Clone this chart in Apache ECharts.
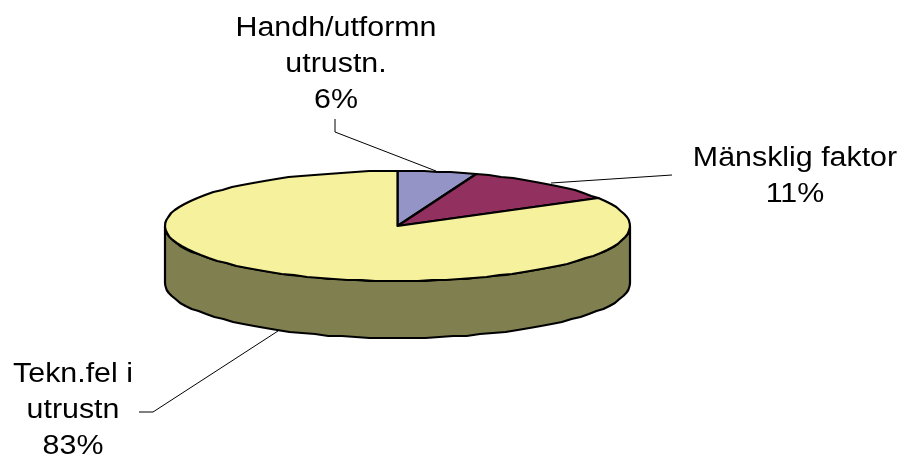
<!DOCTYPE html>
<html>
<head>
<meta charset="utf-8">
<style>html,body{margin:0;padding:0;background:#fff}#c{width:904px;height:460px}</style>
<script src="https://cdn.jsdelivr.net/npm/echarts@6/dist/echarts.min.js"></script>
</head>
<body>
<div id="c"></div>
<script>
// Data (angles of the slices; labels show rounded percent)
const categories = ['Handh/utformn\nutrustn.', 'Mänsklig faktor', 'Tekn.fel i\nutrustn'];
const sliceValues = [5.5, 11.1, 83.4];
const topColors = ['#9494C6', '#92305F', '#F5F19C'];
const wallColors = ['#4A4A63', '#491830', '#7F7F4F'];

// Layout
const G = { cx: 397.5, cy: 226, rx: 232.5, ry: 55, depth: 57, step: 3.5, snap: 1 };
const labelPos = [[336, 11], [795, 141], [73, 357]];
const labelScaleX = 1.125;
const leaders = [
  [[335, 119], [335, 132], [436, 171]],
  [[672, 175], [551, 183]],
  [[139, 412], [153, 412], [278, 331]]
];

const total = sliceValues.reduce((a, b) => a + b, 0);
function pt(deg, dy) {
  const r = deg * Math.PI / 180;
  const x = G.cx + G.rx * Math.sin(r);
  const y = G.cy - G.ry * Math.cos(r);
  // The outline of the reference is slightly stair-stepped: snap y to whole pixels
  return [x, Math.round(y / G.snap) * G.snap + (dy || 0)];
}
function arc(a0, a1, dy) {
  const n = Math.max(1, Math.ceil((a1 - a0) / G.step));
  const out = [];
  for (let i = 0; i <= n; i++) out.push(pt(a0 + (a1 - a0) * i / n, dy));
  return out;
}
const edge = { stroke: '#000', lineWidth: 2.2, lineJoin: 'round' };

function renderItem(params, api) {
  const i = params.dataIndex;
  const v = api.value(0);
  let before = 0;
  for (let k = 0; k < i; k++) before += sliceValues[k];
  const a0 = before / total * 360, a1 = (before + v) / total * 360;
  const children = [];
  const w0 = Math.max(a0, 90), w1 = Math.min(a1, 270);
  if (w1 > w0) {
    const pts = arc(w0, w1, 0).concat(arc(w0, w1, G.depth).reverse());
    children.push({ type: 'polygon', shape: { points: pts },
      style: Object.assign({ fill: wallColors[i] }, edge) });
  }
  const top = [[G.cx, G.cy]].concat(arc(a0, a1, 0));
  children.push({ type: 'polygon', shape: { points: top },
    style: Object.assign({ fill: topColors[i] }, edge) });
  children.push({ type: 'polyline', shape: { points: leaders[i] },
    style: { fill: null, stroke: '#000', lineWidth: 1 } });
  children.push({ type: 'text', x: labelPos[i][0], y: labelPos[i][1], scaleX: labelScaleX, style: {
    text: api.value(1) + '\n' + Math.round(v) + '%',
    x: 0, y: 0, align: 'center', verticalAlign: 'top',
    fill: '#000', font: '27px "Liberation Sans"', lineHeight: 36 } });
  return { type: 'group', children };
}

const chart = echarts.init(document.getElementById('c'), null, { renderer: 'canvas' });
chart.setOption({
  animation: false,
  backgroundColor: '#fff',
  series: [{
    type: 'custom',
    coordinateSystem: 'none',
    renderItem,
    dimensions: ['value', { name: 'name', type: 'ordinal' }],
    encode: { value: 0 },
    data: sliceValues.map((v, i) => [v, categories[i]])
  }]
});
</script>
</body>
</html>
